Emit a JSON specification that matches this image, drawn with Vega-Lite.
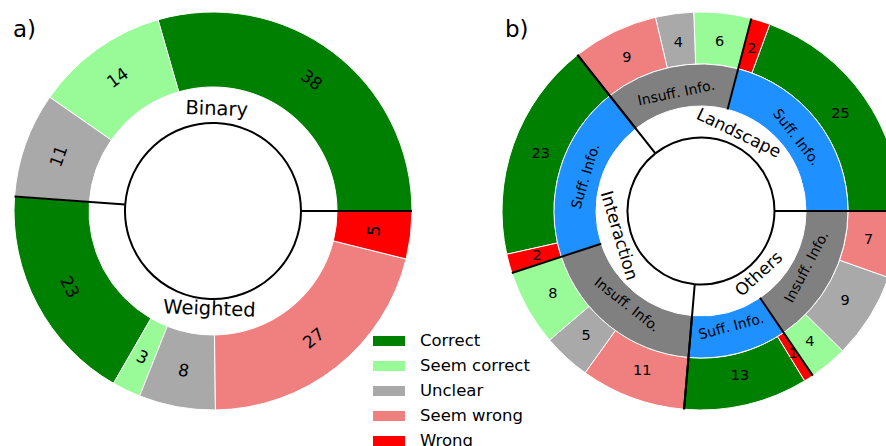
{
  "$schema": "https://vega.github.io/schema/vega-lite/v6.json",
  "padding": 0,
  "spacing": 74,
  "background": "white",
  "config": {"view": {"stroke": null}, "font": "DejaVu Sans", "text": {"font": "DejaVu Sans", "color": "black"}},
  "datasets": {
    "a_outer": [
      {"grp": "Binary", "cat": "Correct", "value": 38, "order": 1},
      {"grp": "Binary", "cat": "Seem correct", "value": 14, "order": 2},
      {"grp": "Binary", "cat": "Unclear", "value": 11, "order": 3},
      {"grp": "Weighted", "cat": "Correct", "value": 23, "order": 4},
      {"grp": "Weighted", "cat": "Seem correct", "value": 3, "order": 5},
      {"grp": "Weighted", "cat": "Unclear", "value": 8, "order": 6},
      {"grp": "Weighted", "cat": "Seem wrong", "value": 27, "order": 7},
      {"grp": "Weighted", "cat": "Wrong", "value": 5, "order": 8}
    ],
    "a_inner": [
      {"grp": "Binary", "value": 63, "order": 1},
      {"grp": "Weighted", "value": 66, "order": 2}
    ],
    "b_outer": [
      {"grp": "Landscape", "info": "Suff", "cat": "Correct", "value": 25, "order": 1},
      {"grp": "Landscape", "info": "Suff", "cat": "Wrong", "value": 2, "order": 2},
      {"grp": "Landscape", "info": "Insuff", "cat": "Seem correct", "value": 6, "order": 3},
      {"grp": "Landscape", "info": "Insuff", "cat": "Unclear", "value": 4, "order": 4},
      {"grp": "Landscape", "info": "Insuff", "cat": "Seem wrong", "value": 9, "order": 5},
      {"grp": "Interaction", "info": "Suff", "cat": "Correct", "value": 23, "order": 6},
      {"grp": "Interaction", "info": "Suff", "cat": "Wrong", "value": 2, "order": 7},
      {"grp": "Interaction", "info": "Insuff", "cat": "Seem correct", "value": 8, "order": 8},
      {"grp": "Interaction", "info": "Insuff", "cat": "Unclear", "value": 5, "order": 9},
      {"grp": "Interaction", "info": "Insuff", "cat": "Seem wrong", "value": 11, "order": 10},
      {"grp": "Others", "info": "Suff", "cat": "Correct", "value": 13, "order": 11},
      {"grp": "Others", "info": "Suff", "cat": "Wrong", "value": 1, "order": 12},
      {"grp": "Others", "info": "Insuff", "cat": "Seem correct", "value": 4, "order": 13},
      {"grp": "Others", "info": "Insuff", "cat": "Unclear", "value": 9, "order": 14},
      {"grp": "Others", "info": "Insuff", "cat": "Seem wrong", "value": 7, "order": 15}
    ],
    "b_mid": [
      {"grp": "Landscape", "info": "Suff", "label": "Suff. Info.", "value": 27, "order": 1},
      {"grp": "Landscape", "info": "Insuff", "label": "Insuff. Info.", "value": 19, "order": 2},
      {"grp": "Interaction", "info": "Suff", "label": "Suff. Info.", "value": 25, "order": 3},
      {"grp": "Interaction", "info": "Insuff", "label": "Insuff. Info.", "value": 24, "order": 4},
      {"grp": "Others", "info": "Suff", "label": "Suff. Info.", "value": 14, "order": 5},
      {"grp": "Others", "info": "Insuff", "label": "Insuff. Info.", "value": 20, "order": 6}
    ],
    "b_inner": [
      {"grp": "Landscape", "value": 46, "order": 1},
      {"grp": "Interaction", "value": 49, "order": 2},
      {"grp": "Others", "value": 34, "order": 3}
    ]
  },
  "resolve": {"scale": {"theta": "independent", "color": "shared"}, "legend": {"color": "shared"}},
  "hconcat": [
    {
      "width": 426,
      "height": 422,
      "title": {"text": "a)", "anchor": "start", "frame": "group", "orient": "top", "fontSize": 23, "fontWeight": "normal", "font": "DejaVu Sans", "baseline": "top", "offset": 0, "dy": 42, "dx": 13, "color": "black"},
      "layer": [
        {
          "data": {"name": "a_outer"},
          "mark": {"type": "arc", "radius": 199, "radius2": 124, "stroke": "white", "strokeWidth": 1},
          "encoding": {
            "theta": {"field": "value", "type": "quantitative", "stack": true, "scale": {"domain": [0, 129], "range": [1.5707963, -4.712389]}},
            "order": {"field": "order", "type": "quantitative"},
            "color": {"field": "cat", "type": "nominal",
              "scale": {"domain": ["Correct", "Seem correct", "Unclear", "Seem wrong", "Wrong"], "range": ["#008000", "#98fb98", "#a9a9a9", "#f08080", "#ff0000"]},
              "legend": {"orient": "none", "legendX": 373, "legendY": 325, "title": null, "symbolType": "M-1,-0.3125H1V0.3125H-1Z", "symbolSize": 1024, "symbolStrokeWidth": 0, "labelFontSize": 16.5, "labelFont": "DejaVu Sans", "labelOffset": 15, "rowPadding": -9, "labelColor": "black"}}
          }
        },
        {
          "data": {"name": "a_outer"},
          "mark": {"type": "text", "radius": 163, "fontSize": 17, "angle": {"expr": "((datum.value_start + datum.value_end) * 180 / 129 - 90) > 90 ? 270 - (datum.value_start + datum.value_end) * 180 / 129 : 90 - (datum.value_start + datum.value_end) * 180 / 129"}},
          "encoding": {
            "theta": {"field": "value", "type": "quantitative", "stack": true},
            "order": {"field": "order", "type": "quantitative"},
            "text": {"field": "value", "type": "quantitative"}
          }
        },
        {
          "data": {"name": "a_inner"},
          "mark": {"type": "arc", "radius": 88, "radius2": 88, "filled": false, "stroke": "black", "strokeWidth": 2},
          "encoding": {
            "theta": {"field": "value", "type": "quantitative", "stack": true},
            "order": {"field": "order", "type": "quantitative"}
          }
        },
        {
          "data": {"name": "a_inner"},
          "transform": [{"stack": "value", "groupby": [], "sort": [{"field": "order", "order": "ascending"}], "as": ["s0", "s1"]}],
          "mark": {"type": "arc", "radius": 199, "radius2": 88, "filled": false, "stroke": "black", "strokeWidth": 2},
          "encoding": {
            "theta": {"field": "s0", "type": "quantitative"},
            "theta2": {"field": "s0"}
          }
        },
        {
          "data": {"name": "a_inner"},
          "mark": {"type": "text", "radius": 100, "dy": -2, "fontSize": 19.5, "angle": {"expr": "((datum.value_start + datum.value_end) * 180 / 129 - 90) > 90 ? 270 - (datum.value_start + datum.value_end) * 180 / 129 : 90 - (datum.value_start + datum.value_end) * 180 / 129"}},
          "encoding": {
            "theta": {"field": "value", "type": "quantitative", "stack": true},
            "order": {"field": "order", "type": "quantitative"},
            "text": {"field": "grp", "type": "nominal"}
          }
        }
      ]
    },
    {
      "width": 374,
      "height": 422,
      "title": {"text": "b)", "anchor": "start", "frame": "group", "orient": "top", "fontSize": 23, "fontWeight": "normal", "font": "DejaVu Sans", "baseline": "top", "offset": 0, "dy": 42, "dx": -9, "color": "black"},
      "layer": [
        {
          "data": {"name": "b_outer"},
          "mark": {"type": "arc", "radius": 199, "radius2": 147, "stroke": "white", "strokeWidth": 1},
          "encoding": {
            "theta": {"field": "value", "type": "quantitative", "stack": true, "scale": {"domain": [0, 129], "range": [1.5707963, -4.712389]}},
            "order": {"field": "order", "type": "quantitative"},
            "color": {"field": "cat", "type": "nominal",
              "scale": {"domain": ["Correct", "Seem correct", "Unclear", "Seem wrong", "Wrong"], "range": ["#008000", "#98fb98", "#a9a9a9", "#f08080", "#ff0000"]},
              "legend": {"orient": "none", "legendX": 373, "legendY": 325, "title": null, "symbolType": "M-1,-0.3125H1V0.3125H-1Z", "symbolSize": 1024, "symbolStrokeWidth": 0, "labelFontSize": 16.5, "labelFont": "DejaVu Sans", "labelOffset": 15, "rowPadding": -9, "labelColor": "black"}}
          }
        },
        {
          "data": {"name": "b_mid"},
          "mark": {"type": "arc", "radius": 147, "radius2": 105, "stroke": "white", "strokeWidth": 1},
          "encoding": {
            "theta": {"field": "value", "type": "quantitative", "stack": true},
            "order": {"field": "order", "type": "quantitative"},
            "fill": {"field": "info", "type": "nominal", "scale": {"domain": ["Suff", "Insuff"], "range": ["#1e90ff", "#808080"]}, "legend": null}
          }
        },
        {
          "data": {"name": "b_outer"},
          "mark": {"type": "text", "radius": 170, "fontSize": 14.5},
          "encoding": {
            "theta": {"field": "value", "type": "quantitative", "stack": true},
            "order": {"field": "order", "type": "quantitative"},
            "text": {"field": "value", "type": "quantitative"}
          }
        },
        {
          "data": {"name": "b_mid"},
          "mark": {"type": "text", "radius": 120, "fontSize": 14, "angle": {"expr": "((datum.value_start + datum.value_end) * 180 / 129 - 90) > 90 ? 270 - (datum.value_start + datum.value_end) * 180 / 129 : 90 - (datum.value_start + datum.value_end) * 180 / 129"}},
          "encoding": {
            "theta": {"field": "value", "type": "quantitative", "stack": true},
            "order": {"field": "order", "type": "quantitative"},
            "text": {"field": "label", "type": "nominal"}
          }
        },
        {
          "data": {"name": "b_inner"},
          "mark": {"type": "arc", "radius": 73.5, "radius2": 73.5, "filled": false, "stroke": "black", "strokeWidth": 2},
          "encoding": {
            "theta": {"field": "value", "type": "quantitative", "stack": true},
            "order": {"field": "order", "type": "quantitative"}
          }
        },
        {
          "data": {"name": "b_inner"},
          "transform": [{"stack": "value", "groupby": [], "sort": [{"field": "order", "order": "ascending"}], "as": ["s0", "s1"]}],
          "mark": {"type": "arc", "radius": 199, "radius2": 73.5, "filled": false, "stroke": "black", "strokeWidth": 2},
          "encoding": {
            "theta": {"field": "s0", "type": "quantitative"},
            "theta2": {"field": "s0"}
          }
        },
        {
          "data": {"name": "b_mid"},
          "transform": [{"stack": "value", "groupby": [], "sort": [{"field": "order", "order": "ascending"}], "as": ["s0", "s1"]}],
          "mark": {"type": "arc", "radius": 199, "radius2": 105, "filled": false, "stroke": "black", "strokeWidth": 2},
          "encoding": {
            "theta": {"field": "s0", "type": "quantitative"},
            "theta2": {"field": "s0"}
          }
        },
        {
          "data": {"name": "b_inner"},
          "mark": {"type": "text", "radius": 86, "fontSize": 17, "angle": {"expr": "((datum.value_start + datum.value_end) * 180 / 129 - 90) > 90 ? 270 - (datum.value_start + datum.value_end) * 180 / 129 : 90 - (datum.value_start + datum.value_end) * 180 / 129"}},
          "encoding": {
            "theta": {"field": "value", "type": "quantitative", "stack": true},
            "order": {"field": "order", "type": "quantitative"},
            "text": {"field": "grp", "type": "nominal"}
          }
        }
      ]
    }
  ]
}
